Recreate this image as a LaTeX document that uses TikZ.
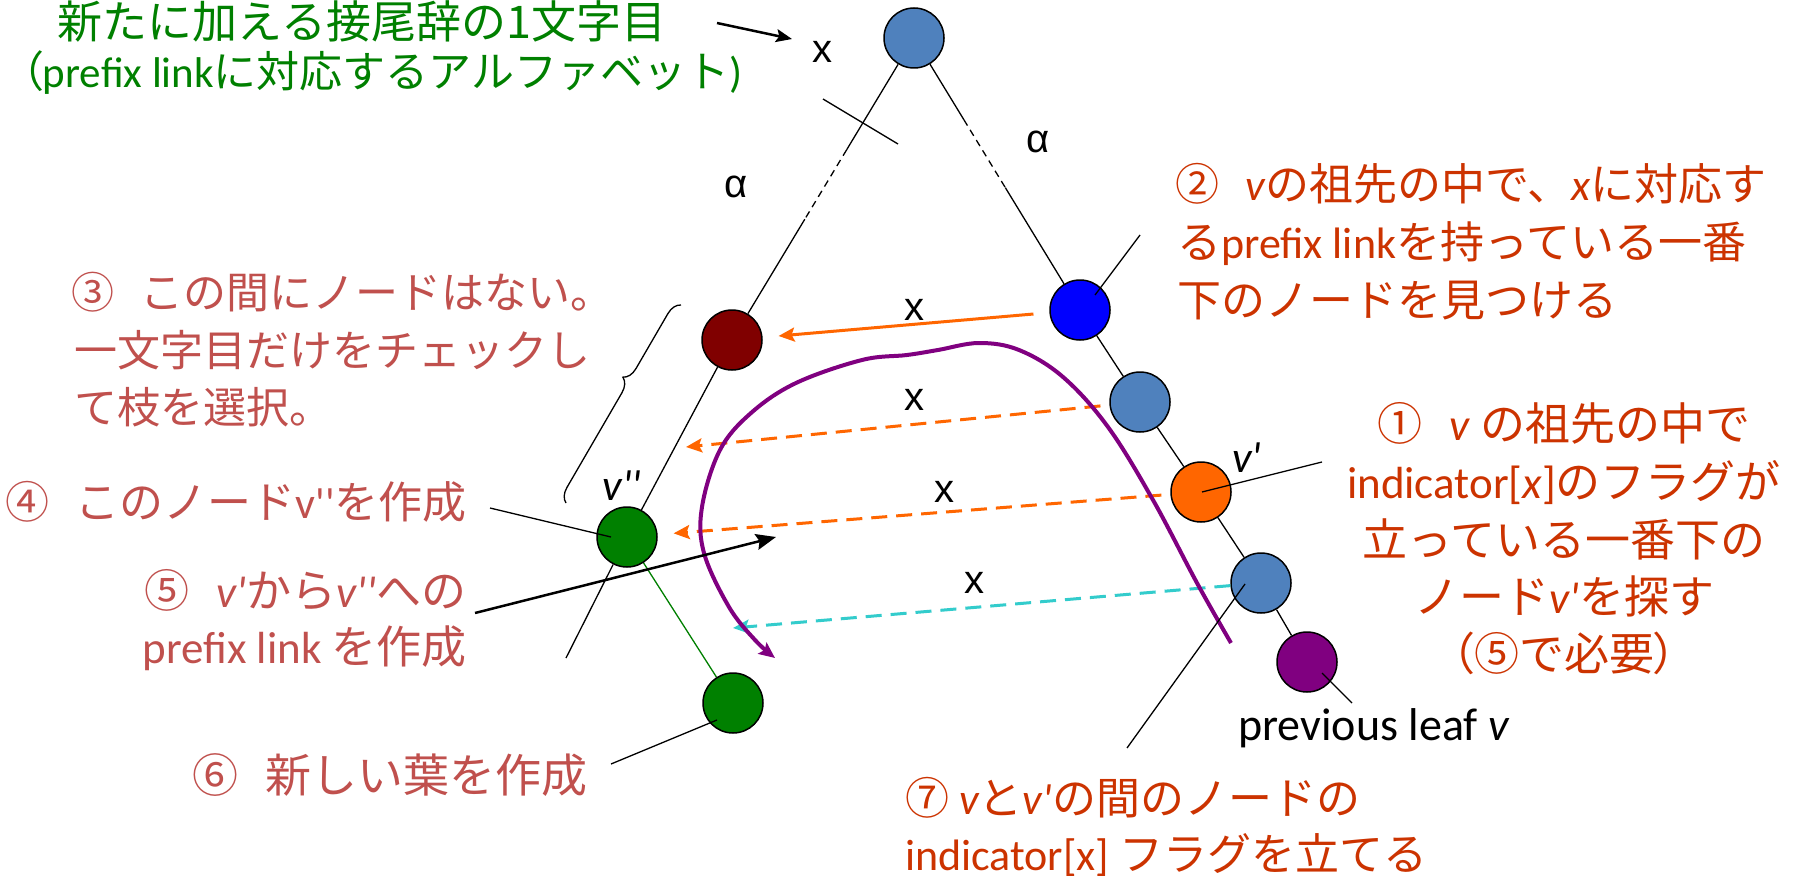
\documentclass[tikz,border=0pt]{standalone}
\usepackage{fontspec}
\setmainfont{Noto Sans CJK JP}
\newfontfamily\jpp[RawFeature=+palt]{Noto Sans CJK JP}
\newfontfamily\lat[Ligatures=TeXOff]{Carlito}
\newfontfamily\arl{Liberation Sans}
\usetikzlibrary{arrows.meta,calc,decorations.pathreplacing}
\definecolor{steel}{HTML}{4F81BD}
\definecolor{txtred}{HTML}{C0504D}
\definecolor{txtorg}{HTML}{CC3300}
\definecolor{txtgrn}{HTML}{008000}
\definecolor{arrorg}{HTML}{FF6600}
\definecolor{arrcyan}{HTML}{33CCCC}
\definecolor{purp}{HTML}{800080}
\definecolor{dred}{HTML}{800000}
\definecolor{grn}{HTML}{008000}
\definecolor{bluen}{HTML}{0000FF}
\newcommand{\itl}[1]{{\lat\itshape #1}}
\newcommand{\ltn}[1]{{\lat #1}}
\newcommand{\cgap}{\hspace{0.6em}}
\newcommand{\pp}[1]{{\jpp #1}}
\begin{document}
\begin{tikzpicture}[x=1pt,y=-1pt,
  tn/.style={circle,draw=black,line width=1.5pt,minimum size=60pt,inner sep=0pt},
  tline/.style={line width=1.3pt},
  fine/.style={line width=1.3pt,dash pattern=on 7pt off 5pt},
  lead/.style={line width=1.3pt},
  lbl/.style={inner sep=0pt,anchor=base,font=\arl\fontsize{40}{40}\selectfont},
  vl/.style={inner sep=0pt,anchor=base,font=\lat\itshape\fontsize{44}{44}\selectfont},
  tA/.style={inner sep=0pt,text=txtorg,font=\fontsize{45}{45}\selectfont},
  tD/.style={inner sep=0pt,text=txtorg,font=\fontsize{44}{44}\selectfont},
  tB/.style={inner sep=0pt,text=txtred,font=\fontsize{45}{45}\selectfont},
  tC/.style={inner sep=0pt,text=txtred,font=\fontsize{43}{43}\selectfont},
  tG/.style={inner sep=0pt,text=txtgrn,font=\fontsize{45}{45}\selectfont},
  tK/.style={inner sep=0pt,text=black,font=\lat\fontsize{46}{46}\selectfont},
  ahead/.style={-{Stealth[length=16pt,width=14pt,inset=3pt]}},
  solidlink/.style={arrorg,line width=3pt,ahead},
  dashlink/.style={line width=3pt,ahead,dash pattern=on 16pt off 9pt},
  blackarrow/.style={line width=2.5pt,-{Stealth[length=20pt,width=16pt,inset=3pt]}}
]
\useasboundingbox (0,0) rectangle (1812,880);
\fill[white] (0,0) rectangle (1812,880);

% tree nodes
\node[tn,fill=steel] (root) at (914,38) {};
\node[tn,fill=bluen] (blue) at (1080,310) {};
\node[tn,fill=steel] (lb2) at (1140,402) {};
\node[tn,fill=arrorg] (orng) at (1201,492) {};
\node[tn,fill=steel] (lb3) at (1261,583) {};
\node[tn,fill=purp] (leafv) at (1307,662) {};
\node[tn,fill=dred] (red) at (732,340) {};
\node[tn,fill=grn] (vpp) at (627,537) {};
\node[tn,fill=grn] (leaf) at (733,703) {};

% free coordinates
\coordinate (lend) at (566,658);
\coordinate (tickA) at (823,99);
\coordinate (tickB) at (898,144);
\coordinate (t2) at (686,447);
\coordinate (t4) at (733,628);
\coordinate (a5s) at (475,613);
\coordinate (a5e) at (776,537);
\coordinate (gs) at (717,23);
\coordinate (ge) at (792,39);
\coordinate (l2) at (1140,235);
\coordinate (l1) at (1322,462);
\coordinate (l7) at (1127,748);
\coordinate (lp) at (1352,703);
\coordinate (l4) at (490,508);
\coordinate (l6) at (611,764);
\coordinate (brB) at (566,503);
\coordinate (brT) at (681,305);

% left branch
\draw[tline] (root) -- ($(root)!0.37!(red)$);
\draw[fine] ($(root)!0.37!(red)$) -- ($(root)!0.6!(red)$);
\draw[tline] ($(root)!0.6!(red)$) -- (red);
\draw[tline] (red) -- (vpp);
\draw[tline] (vpp) -- (lend);
\draw[tline] (tickA) -- (tickB);
% right branch
\draw[tline] (root) -- ($(root)!0.30!(blue)$);
\draw[fine] ($(root)!0.30!(blue)$) -- ($(root)!0.55!(blue)$);
\draw[tline] ($(root)!0.55!(blue)$) -- (blue);
\draw[tline] (blue) -- (lb2);
\draw[tline] (lb2) -- (orng);
\draw[tline] (orng) -- (lb3);
\draw[tline] (lb3) -- (leafv);
% new leaf edge
\draw[grn,line width=1.3pt] (vpp) -- (leaf);

% brace
\draw[line width=1.3pt,decorate,decoration={brace,amplitude=14pt,aspect=0.6}] (brB) -- (brT);

% prefix links
\draw[solidlink,shorten <=16pt,shorten >=16pt] (blue) -- (red);
\draw[dashlink,arrorg,shorten <=9pt] (lb2) -- (t2);
\draw[dashlink,arrorg,shorten <=9pt,shorten >=16pt] (orng) -- (vpp);
\draw[dashlink,arrcyan] (lb3) -- (t4);

% purple path
\draw[purp,line width=4pt,-{Stealth[length=16pt,width=14pt,inset=3pt]}] plot[smooth,tension=0.6] coordinates {(1231,643) (1197,583) (1153,500) (1108,427) (1063,377) (1019,350) (979,343) (938,350) (907,355) (862,360) (796,383) (751,413) (720,450) (702,507) (704,553) (729,607) (755,640) (775,658)};

% black arrows and leaders
\draw[blackarrow] (a5s) -- (a5e);
\draw[line width=2.5pt,-{Stealth[length=16pt,width=13pt,inset=3pt]}] (gs) -- (ge);
\draw[lead] ($(blue.center)+(15,-15)$) -- (l2);
\draw[lead] ($(orng.center)+(1,0)$) -- (l1);
\draw[lead] ($(lb3.center)+(-16,1)$) -- (l7);
\draw[lead] ($(leafv.center)+(15,11)$) -- (lp);
\draw[lead] ($(vpp.center)+(-16,0)$) -- (l4);
\draw[lead] ($(leaf.center)+(-16,17)$) -- (l6);

% small labels
\node[lbl] (xtop) at (822,63) {x};
\node[lbl] (alr) at (1038,153) {α};
\node[lbl] (all) at (736,197) {α};
\node[lbl] (x1) at (914,320) {x};
\node[lbl] (x2) at (914,410) {x};
\node[lbl] (x3) at (944,502) {x};
\node[lbl] (x4) at (974,593) {x};
\node[vl] (vppl) at (622,500) {v''};
\node[vl] (vpl) at (1247,472) {v'};
\node[tK,anchor=base west] (prev) at (1238,740) {previous leaf \itshape v};

% green text
\node[tG,anchor=base] (g1) at (362,39) {新たに加える接尾辞の1文字目};
\node[tG,font=\fontsize{43}{43}\selectfont,anchor=base] (g2) at (382,88) {\pp{（}\ltn{prefix link}に対応するアルファベット\ltn{)}};

% (2)
\node[tD,anchor=base west] (s2a) at (1175,200) {②\cgap\itl{v}の祖先の中で、\itl{x}に対応す};
\node[tD,anchor=base west] (s2b) at (1177,258) {る\ltn{prefix link}を持っている一番};
\node[tD,anchor=base west] (s2c) at (1177,316) {下のノードを見つける};

% (3)
\node[tC,anchor=base west] (s3a) at (71,308) {③\cgap この間にノードはない。};
\node[tC,anchor=base west] (s3b) at (74,366) {一文字目だけをチェックし};
\node[tC,anchor=base west] (s3c) at (74,423) {て枝を選択。};

% (4) (5) (6)
\node[tB,font=\fontsize{44}{44}\selectfont,anchor=base east] (s4) at (467,518) {④\cgap このノード\ltn{v''}を作成};
\node[tB,anchor=base east] (s5a) at (467,607) {⑤\cgap\itl{v'}から\itl{v''}への};
\node[tB,anchor=base east] (s5b) at (467,663) {\ltn{prefix link} を作成};
\node[tB,font=\fontsize{46}{46}\selectfont,anchor=base west] (s6) at (192,792) {⑥\cgap 新しい葉を作成};

% (1)
\node[tA,anchor=base] (s1a) at (1564,440) {①\cgap\itl{v} の祖先の中で};
\node[tA,anchor=base] (s1b) at (1564,498) {\ltn{indicator[}\itl{x}\ltn{]}のフラグが};
\node[tA,anchor=base] (s1c) at (1564,556) {立っている一番下の};
\node[tA,anchor=base] (s1d) at (1564,613) {ノード\itl{v'}を探す};
\node[tA,anchor=base] (s1e) at (1564,670) {\pp{（}⑤で必要\pp{）}};

% (7)
\node[tD,anchor=base west] (s7a) at (905,814) {⑦ \itl{v}と\itl{v'}の間のノードの};
\node[tD,anchor=base west] (s7b) at (905,870) {\ltn{indicator[x]} フラグを立てる};
\end{tikzpicture}
\end{document}
